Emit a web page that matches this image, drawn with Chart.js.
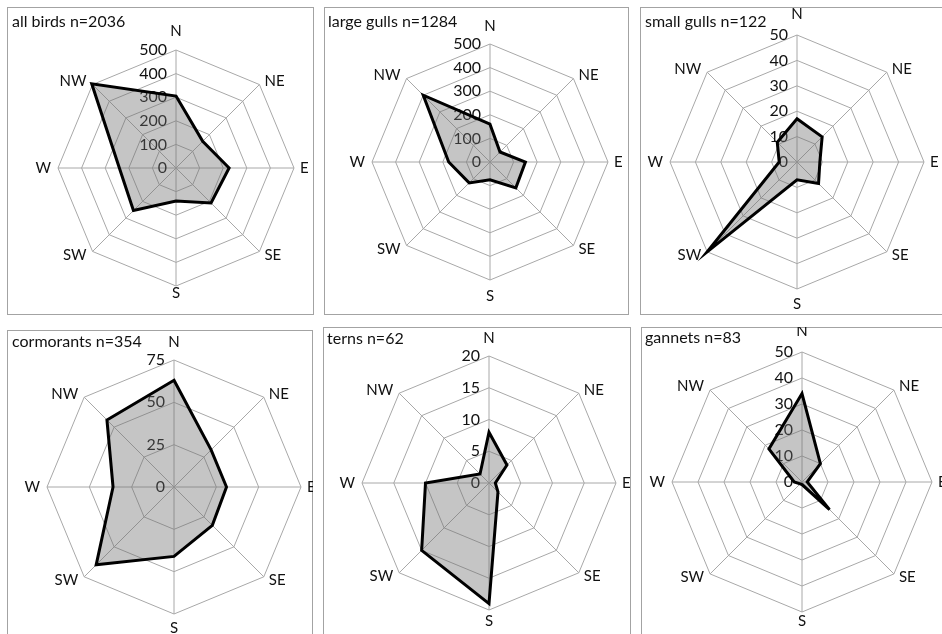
<!DOCTYPE html>
<html>
<head>
<meta charset="utf-8">
<script src="https://cdn.jsdelivr.net/npm/chart.js@4.4.1/dist/chart.umd.min.js"></script>
<style>
  html, body { margin: 0; padding: 0; background: #fff; }
  body { width: 942px; height: 634px; overflow: hidden; position: relative; }
  .frame { position: absolute; border: 1px solid #a3a3a3; box-sizing: border-box; }
  canvas { position: absolute; }
</style>
</head>
<body>
<script>
// Flight directions and counts per direction for each species group
const directions = ['N', 'NE', 'E', 'SE', 'S', 'SW', 'W', 'NW'];

const allBirds   = [305, 160, 225, 210, 140, 255, 240, 505];
const largeGulls = [160, 60, 150, 155, 75, 125, 175, 400];
const smallGulls = [17, 14, 9, 12, 7, 50, 7, 11];
const cormorants = [63, 31, 31, 32, 41, 65, 36, 56];
const terns      = [8, 4, 1, 2, 19, 15, 10, 2];
const gannets    = [34, 10, 2, 15, 1, 1, 3, 18];

// Ring values shown on the radial axis
const ticks500 = [0, 100, 200, 300, 400, 500];
const ticks50  = [0, 10, 20, 30, 40, 50];
const ticks75  = [0, 25, 50, 75];
const ticks20  = [0, 5, 10, 15, 20];

const titles = [
  'all birds n=2036', 'large gulls n=1284', 'small gulls n=122',
  'cormorants n=354', 'terns n=62', 'gannets n=83'
];
const seriesList = [allBirds, largeGulls, smallGulls, cormorants, terns, gannets];
const tickList = [ticks500, ticks500, ticks50, ticks75, ticks20, ticks50];

// Panel geometry: frame box, plot centre, outer radius, title baseline,
// gap above "N" and below "S"
const layouts = [
  { frame: [7, 7, 307, 308],     center: [176, 168], radius: 118, title: [12, 27],   nGap: 19, sGap: 7.5 },
  { frame: [324, 7, 305, 308],   center: [490, 162], radius: 118, title: [328, 27],  nGap: 18, sGap: 16 },
  { frame: [640, 7, 320, 308],   center: [797, 162], radius: 127, title: [645, 27],  nGap: 21, sGap: 15 },
  { frame: [7, 330, 306, 320],   center: [174, 487], radius: 127, title: [12, 347],  nGap: 18, sGap: 14 },
  { frame: [323, 327, 308, 320], center: [489, 483], radius: 127, title: [327, 344], nGap: 18, sGap: 11 },
  { frame: [641, 327, 320, 320], center: [802, 482], radius: 130, title: [645, 343], nGap: 21, sGap: 9 }
];

// Offset and alignment of each direction name relative to its outer vertex
const labelPlace = [
  [0, 0, 'center'], [5, -3.5, 'left'], [6, 0, 'left'], [5, 3.5, 'left'],
  [0, 0, 'center'], [-6, 3.5, 'right'], [-7, 0, 'right'], [-6, -3.5, 'right']
];

const FONT = 'Lato, "Open Sans", sans-serif';

const compassText = {
  id: 'compassText',
  beforeDatasetsDraw(chart, args, opts) {
    const s = chart.scales.r;
    const ctx = chart.ctx;
    ctx.save();
    ctx.fillStyle = '#111';
    // ring values, right-aligned just left of the north spoke
    ctx.font = '16px ' + FONT;
    ctx.textAlign = 'right';
    ctx.textBaseline = 'middle';
    opts.ticks.forEach(v => {
      const d = s.getDistanceFromCenterForValue(v);
      ctx.fillText(String(v), s.xCenter - 9, s.yCenter - d);
    });
    // direction names around the outer ring
    ctx.font = '15px ' + FONT;
    chart.data.labels.forEach((lab, i) => {
      const p = s.getPointPosition(i, s.drawingArea);
      const [dx, dy, align] = labelPlace[i];
      let y = p.y + dy;
      if (i === 0) y -= opts.nGap;
      if (i === 4) y += opts.sGap;
      ctx.textAlign = align;
      ctx.fillText(lab, p.x + dx, y);
    });
    // panel title
    ctx.textAlign = 'left';
    ctx.textBaseline = 'alphabetic';
    ctx.font = '16px ' + FONT;
    ctx.fillText(opts.title, opts.titlePos[0], opts.titlePos[1]);
    ctx.restore();
  }
};

layouts.forEach((L, k) => {
  const [fx, fy, fw, fh] = L.frame;
  const frame = document.createElement('div');
  frame.className = 'frame';
  Object.assign(frame.style, { left: fx + 'px', top: fy + 'px', width: fw + 'px', height: fh + 'px' });
  document.body.appendChild(frame);

  const canvas = document.createElement('canvas');
  canvas.width = fw;
  canvas.height = fh;
  Object.assign(canvas.style, { left: fx + 'px', top: fy + 'px', width: fw + 'px', height: fh + 'px' });
  document.body.appendChild(canvas);

  const R = L.radius;
  const padLeft = L.center[0] - R - fx;
  const padTop = L.center[1] - R - fy;
  const tickVals = tickList[k];

  new Chart(canvas, {
    type: 'radar',
    data: {
      labels: directions,
      datasets: [{
        data: seriesList[k],
        backgroundColor: 'rgba(110,110,110,0.40)',
        borderColor: '#000',
        borderWidth: 3,
        borderJoinStyle: 'miter',
        pointRadius: 0,
        pointHoverRadius: 0,
        fill: true,
        tension: 0
      }]
    },
    options: {
      responsive: false,
      animation: false,
      devicePixelRatio: 1,
      layout: {
        padding: {
          left: padLeft,
          top: padTop,
          right: fw - padLeft - 2 * R,
          bottom: fh - padTop - 2 * R
        }
      },
      plugins: {
        legend: { display: false },
        tooltip: { enabled: false },
        compassText: {
          ticks: tickVals,
          title: titles[k],
          titlePos: [L.title[0] - fx, L.title[1] - fy],
          nGap: L.nGap,
          sGap: L.sGap
        }
      },
      scales: {
        r: {
          min: tickVals[0],
          max: tickVals[tickVals.length - 1],
          ticks: { display: false, stepSize: tickVals[1] - tickVals[0] },
          afterBuildTicks: (scale) => { scale.ticks = tickVals.map(v => ({ value: v })); },
          grid: { color: '#a8a8a8', lineWidth: 1, circular: false },
          angleLines: { color: '#a8a8a8', lineWidth: 1 },
          pointLabels: { display: false }
        }
      }
    },
    plugins: [compassText]
  });
});
</script>
</body>
</html>
